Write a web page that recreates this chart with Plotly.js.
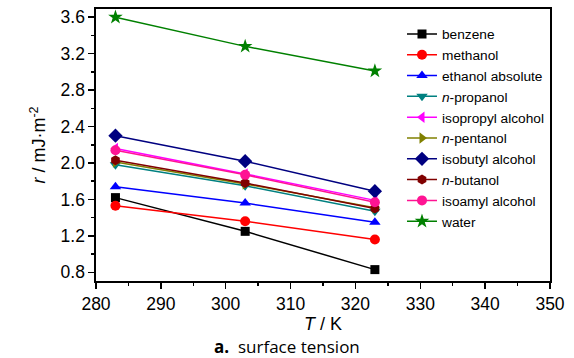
<!DOCTYPE html>
<html><head><meta charset="utf-8">
<script src="https://cdn.plot.ly/plotly-3.0.1.min.js"></script>
<style>html,body{margin:0;padding:0;background:#fff}#c{width:574px;height:358px}</style>
</head><body><div id="c"></div>
<script>
const temperatures = [283, 303, 323];
const seriesNames = ["benzene","methanol","ethanol absolute","<i>n</i>-propanol","isopropyl alcohol","<i>n</i>-pentanol","isobutyl alcohol","<i>n</i>-butanol","isoamyl alcohol","water"];
const benzene = [1.62, 1.25, 0.83];
const methanol = [1.53, 1.36, 1.16];
const ethanol = [1.74, 1.56, 1.35];
const nPropanol = [1.98, 1.75, 1.47];
const isopropyl = [2.16, 1.88, 1.59];
const nPentanol = [2.01, 1.77, 1.51];
const isobutyl = [2.30, 2.02, 1.69];
const nButanol = [2.03, 1.78, 1.50];
const isoamyl = [2.14, 1.87, 1.57];
const water = [3.60, 3.28, 3.01];
const allValues = [benzene, methanol, ethanol, nPropanol, isopropyl, nPentanol, isobutyl, nButanol, isoamyl, water];
const colors = ["#000000","#ff0000","#0000ff","#008080","#ff00ff","#808000","#000080","#800000","#ff1493","#008000"];
const symbols = ["square","circle","triangle-up","triangle-down","triangle-left","triangle-right","diamond","hexagon","circle","star"];
const sizes = [9,10,10,10,10,10,11,10,10,11];

const traces = allValues.map((v,i)=>({
  x: temperatures, y: v, name: seriesNames[i], type:'scatter', mode:'lines+markers',
  line:{color:colors[i], width:1.5},
  marker:{color:colors[i], symbol:symbols[i], size:sizes[i]}
}));

const FF = '"Liberation Sans", Arial, Helvetica, sans-serif';
const tickFont = {family:FF, size:17.5, color:'#000'};
const layout = {
  width:574, height:358,
  margin:{l:96, r:24, t:9, b:77},
  paper_bgcolor:'#fff', plot_bgcolor:'#fff',
  showlegend:true,
  legend:{x:0.674, y:0.965, xanchor:'left', yanchor:'top', bgcolor:'rgba(0,0,0,0)', borderwidth:0,
    font:{family:FF, size:13.7, color:'#000'}},
  xaxis:{range:[280,350], dtick:10, tick0:280, showline:true, mirror:true, linecolor:'#000', linewidth:1.6,
    ticks:'outside', ticklen:6, tickwidth:1.5, tickcolor:'#000', showgrid:false, zeroline:false,
    minor:{dtick:5, ticks:'outside', ticklen:3, tickwidth:1.5, tickcolor:'#000', showgrid:false},
    tickfont:tickFont,
    title:{text:'<i>T</i> / K', font:{family:FF, size:18, color:'#000'}, standoff:4}},
  yaxis:{range:[0.705,3.69], dtick:0.4, tick0:0.8, tickformat:'.1f', showline:true, mirror:true, linecolor:'#000', linewidth:1.6,
    ticks:'outside', ticklen:6, tickwidth:1.5, tickcolor:'#000', showgrid:false, zeroline:false,
    minor:{dtick:0.2, ticks:'outside', ticklen:3, tickwidth:1.5, tickcolor:'#000', showgrid:false},
    tickfont:tickFont,
    title:{text:'<i>r</i> / mJ·m<sup>-2</sup>', font:{family:FF, size:18, color:'#000'}, standoff:10}},
  annotations:[{
    xref:'paper', yref:'paper', x:(287-96)/454, y:-(346-281)/272, xanchor:'center', yanchor:'middle',
    showarrow:false, text:'<b>a.</b>  surface tension',
    font:{family:'"Open Sans", sans-serif', size:17, color:'#000'}
  }]
};
Plotly.newPlot('c', traces, layout, {displayModeBar:false, staticPlot:true});
</script></body></html>
